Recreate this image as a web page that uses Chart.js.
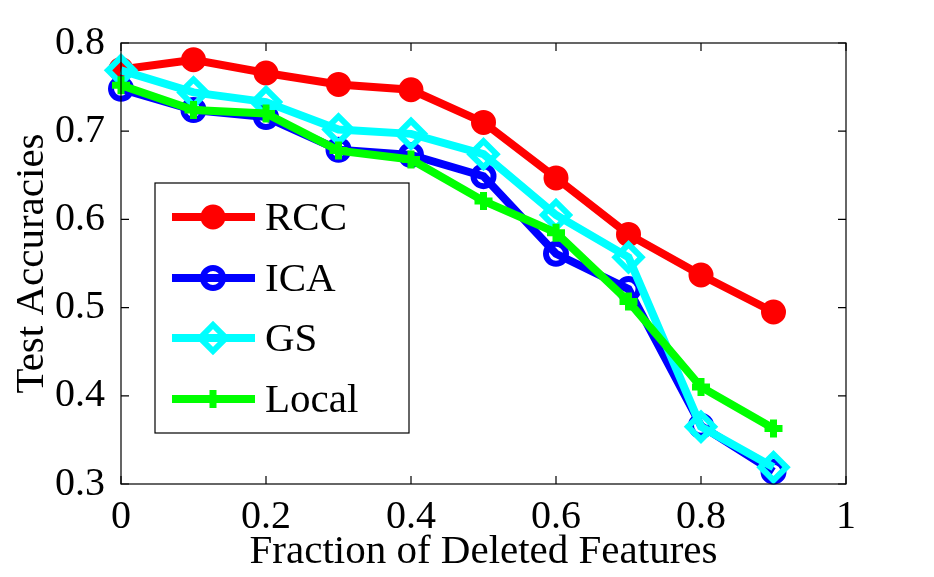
<!DOCTYPE html>
<html>
<head>
<meta charset="utf-8">
<script src="https://cdn.jsdelivr.net/npm/chart.js@4.4.0/dist/chart.umd.min.js"></script>
<style>
  html, body { margin: 0; padding: 0; background: #fff; }
  #wrap { width: 934px; height: 577px; }
</style>
</head>
<body>
<div id="wrap"><canvas id="chart"></canvas></div>
<script>
// Data
const fractions = [0, 0.1, 0.2, 0.3, 0.4, 0.5, 0.6, 0.7, 0.8, 0.9];
const rccAcc   = [0.770, 0.781, 0.766, 0.753, 0.747, 0.710, 0.647, 0.583, 0.537, 0.495];
const icaAcc   = [0.748, 0.724, 0.716, 0.679, 0.673, 0.649, 0.561, 0.521, 0.366, 0.314];
const gsAcc    = [0.769, 0.744, 0.733, 0.702, 0.697, 0.674, 0.605, 0.557, 0.365, 0.319];
const localAcc = [0.752, 0.724, 0.720, 0.678, 0.668, 0.621, 0.585, 0.507, 0.410, 0.363];
const xTicks = [0, 0.2, 0.4, 0.6, 0.8, 1];
const yTicks = [0.3, 0.4, 0.5, 0.6, 0.7, 0.8];

const FONT = "'Liberation Serif', 'Times New Roman', serif";

function points(ys) {
    return fractions.map((x, i) => ({ x: x, y: ys[i] }));
}

// Box around the plot, inward ticks, and the legend box
const framePlugin = {
    id: 'frame',
    afterDraw(chart) {
        const ctx = chart.ctx;
        const a = chart.chartArea;
        const xs = chart.scales.x;
        const ys = chart.scales.y;
        ctx.save();
        ctx.strokeStyle = '#000';
        ctx.lineWidth = 1.2;
        ctx.strokeRect(a.left, a.top, a.right - a.left, a.bottom - a.top);
        const len = 8;
        ctx.beginPath();
        xTicks.forEach(v => {
            const px = xs.getPixelForValue(v);
            ctx.moveTo(px, a.bottom); ctx.lineTo(px, a.bottom - len);
            ctx.moveTo(px, a.top); ctx.lineTo(px, a.top + len);
        });
        yTicks.forEach(v => {
            const py = ys.getPixelForValue(v);
            ctx.moveTo(a.left, py); ctx.lineTo(a.left + len, py);
            ctx.moveTo(a.right, py); ctx.lineTo(a.right - len, py);
        });
        ctx.stroke();

        // legend
        const lx = 155, ly = 183, lw = 254, lh = 250;
        ctx.fillStyle = '#fff';
        ctx.fillRect(lx, ly, lw, lh);
        ctx.lineWidth = 1.2;
        ctx.strokeRect(lx, ly, lw, lh);
        const rows = [217, 278, 338, 399];
        chart.data.datasets.forEach((ds, i) => {
            const y = rows[i];
            ctx.strokeStyle = ds.borderColor;
            ctx.lineWidth = ds.borderWidth;
            ctx.beginPath();
            ctx.moveTo(172, y); ctx.lineTo(255, y);
            ctx.stroke();
            ctx.fillStyle = ds.pointBackgroundColor;
            ctx.strokeStyle = ds.borderColor;
            ctx.lineWidth = ds.pointBorderWidth;
            Chart.helpers.drawPoint(ctx, {
                pointStyle: ds.pointStyle,
                radius: ds.pointRadius,
                borderWidth: ds.pointBorderWidth
            }, 213, y);
            ctx.fillStyle = '#000';
            ctx.font = '41px ' + FONT;
            ctx.textBaseline = 'middle';
            ctx.fillText(ds.label, 265, y + 2);
        });
        ctx.restore();
    }
};

function series(label, data, color, style, radius, bw, fill, order) {
    return {
        label: label,
        data: points(data),
        borderColor: color,
        backgroundColor: color,
        borderWidth: 8,
        pointStyle: style,
        pointRadius: radius,
        pointHoverRadius: radius,
        pointBorderWidth: bw,
        pointBorderColor: color,
        pointBackgroundColor: fill,
        clip: false,
        order: order
    };
}

new Chart(document.getElementById('chart'), {
    type: 'line',
    data: {
        datasets: [
            series('RCC', rccAcc, '#ff0000', 'circle', 10, 5, '#ff0000', 4),
            series('ICA', icaAcc, '#0000ff', 'circle', 10, 6, 'rgba(0,0,0,0)', 3),
            series('GS', gsAcc, '#00ffff', 'rectRot', 13, 6, 'rgba(0,0,0,0)', 2),
            series('Local', localAcc, '#00ff00', 'cross', 9, 7, '#00ff00', 1)
        ]
    },
    options: {
        responsive: true,
        maintainAspectRatio: false,
        animation: false,
        events: [],
        layout: { padding: { left: 0, right: 88, top: 43, bottom: 0 } },
        plugins: { legend: { display: false }, tooltip: { enabled: false } },
        scales: {
            x: {
                type: 'linear',
                min: 0, max: 1,
                afterBuildTicks: s => { s.ticks = xTicks.map(v => ({ value: v })); },
                afterFit: s => { s.height = 93; },
                grid: { display: false },
                border: { display: false },
                ticks: {
                    color: '#000',
                    font: { family: FONT, size: 40 },
                    padding: 1,
                    maxRotation: 0,
                    callback: v => String(v)
                },
                title: {
                    display: true,
                    text: 'Fraction of Deleted Features',
                    color: '#000',
                    font: { family: FONT, size: 41 },
                    padding: 0
                }
            },
            y: {
                type: 'linear',
                min: 0.3, max: 0.8,
                afterBuildTicks: s => { s.ticks = yTicks.map(v => ({ value: v })); },
                afterFit: s => { s.width = 121; },
                grid: { display: false },
                border: { display: false },
                ticks: {
                    color: '#000',
                    font: { family: FONT, size: 40 },
                    padding: 8,
                    callback: v => String(Math.round(v * 10) / 10)
                },
                title: {
                    display: true,
                    text: 'Test Accuracies',
                    color: '#000',
                    font: { family: FONT, size: 41 },
                    padding: { top: 8, bottom: 0 }
                }
            }
        }
    },
    plugins: [framePlugin]
});
</script>
</body>
</html>
